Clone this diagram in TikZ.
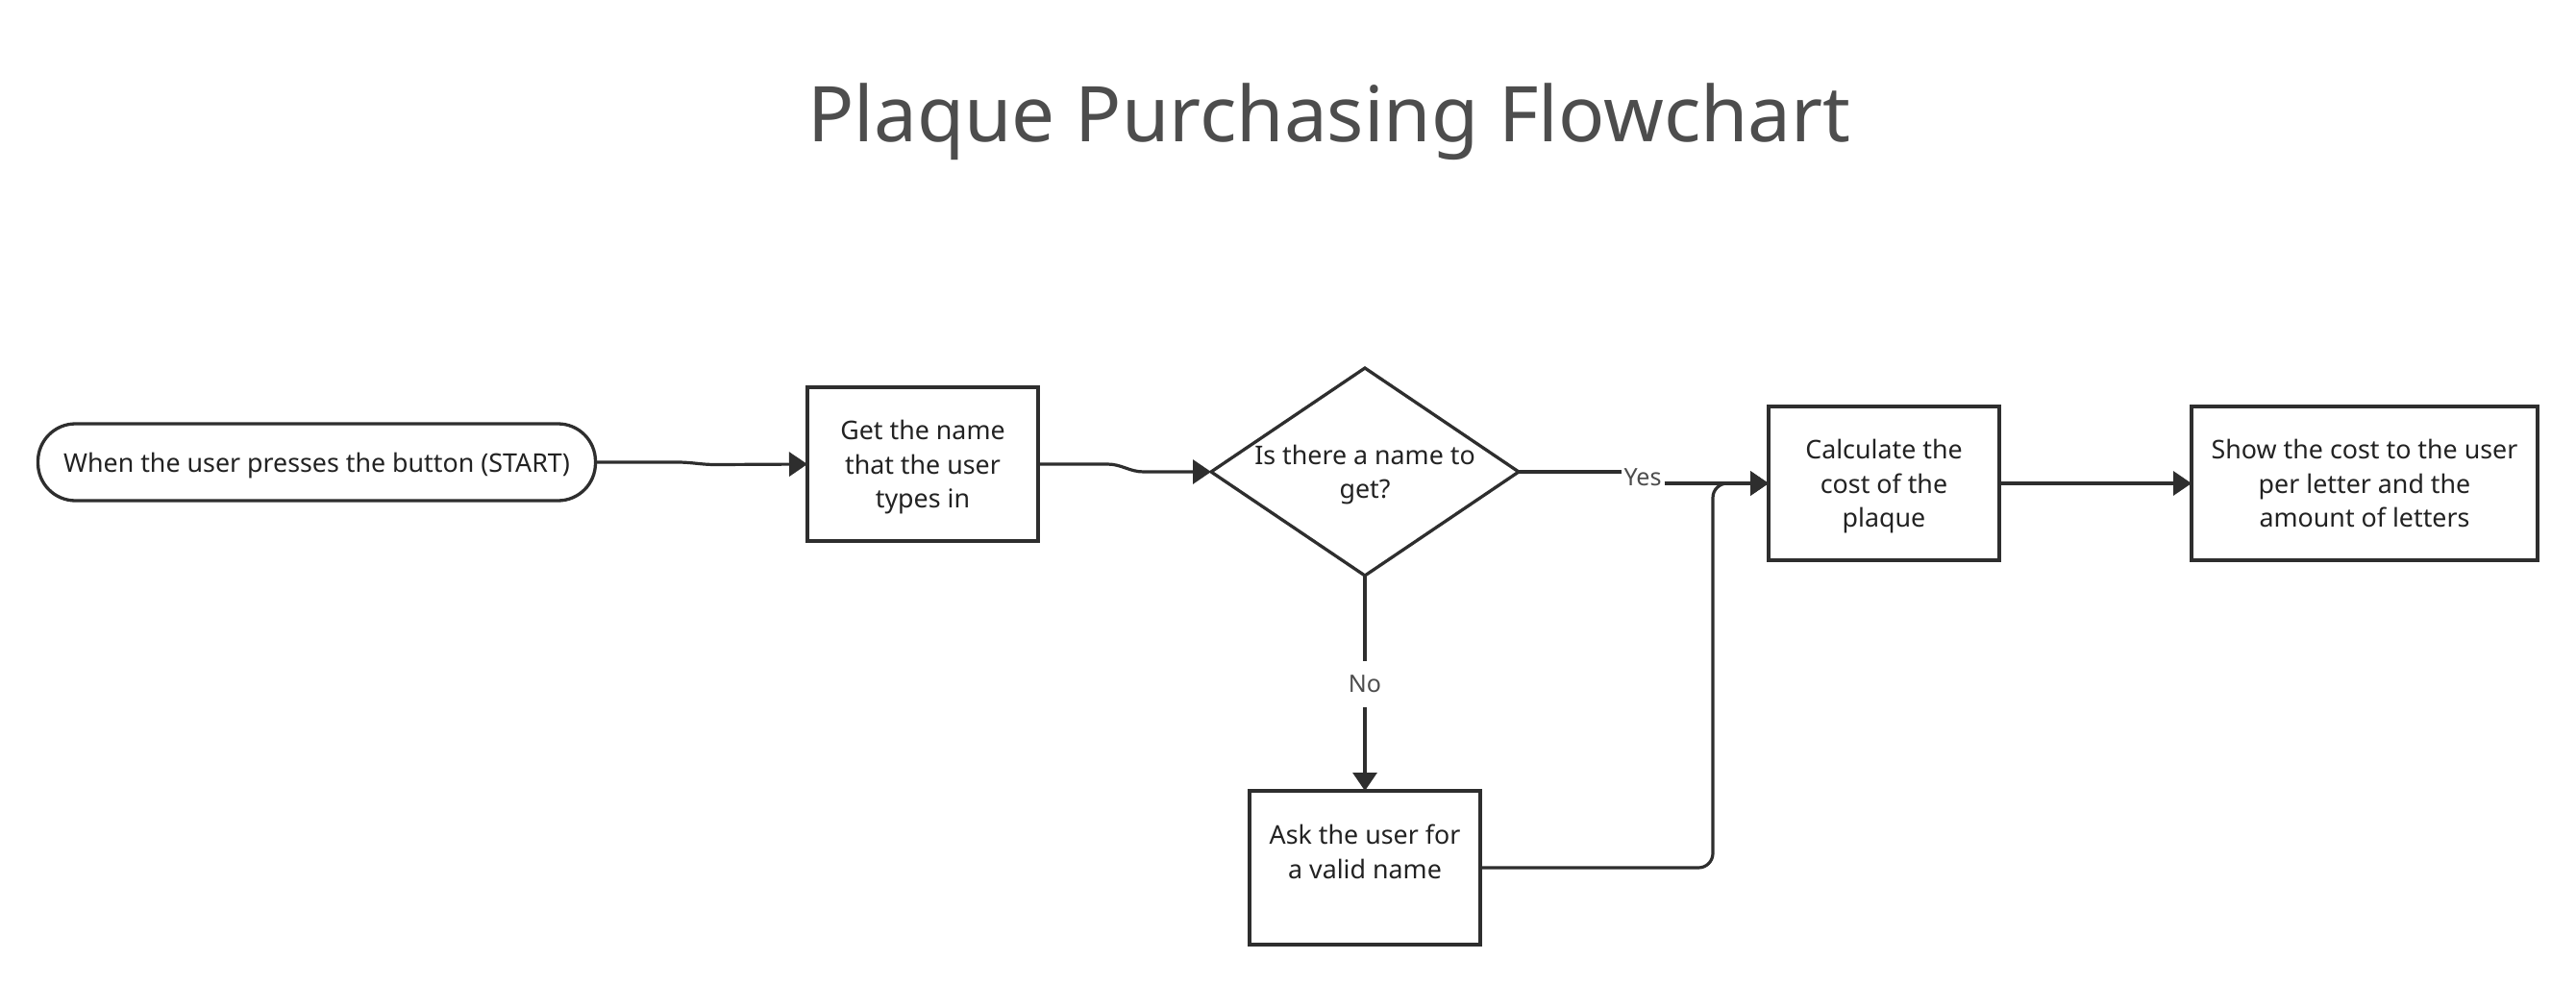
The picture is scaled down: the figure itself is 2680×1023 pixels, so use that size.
\documentclass[tikz,border=0pt]{standalone}
\usepackage{fontspec}
\setmainfont{Noto Sans}
\usetikzlibrary{arrows.meta,shapes.geometric,calc}
\definecolor{linec}{HTML}{2E2E2E}
\definecolor{textc}{HTML}{222222}
\definecolor{titlec}{HTML}{4D4D4D}
\begin{document}
\begin{tikzpicture}[x=1pt,y=-1pt,
  every node/.style={outer sep=0pt},
  boxtxt/.style={font=\fontsize{26.8pt}{35.5pt}\selectfont, text=textc, align=center},
  procbox/.style={boxtxt, draw=linec, line width=3.3pt, fill=white, rectangle, minimum width=240pt, minimum height=160pt, inner sep=0pt},
  termbox/.style={boxtxt, draw=linec, line width=3.3pt, fill=white, rectangle, rounded corners=39pt, minimum width=580pt, minimum height=80pt, inner sep=0pt},
  decbox/.style={draw=linec, line width=3.3pt, fill=white, diamond, minimum width=320pt, minimum height=216pt, inner sep=0pt},
  lbl/.style={font=\fontsize{25pt}{30pt}\selectfont, text=titlec, inner xsep=3pt, inner ysep=15pt},
  conn/.style={draw=linec, line width=3.2pt},
  arr/.style={conn, -{Triangle[length=19pt,width=25pt]}}
]
\useasboundingbox[fill=white] (0,0) rectangle (2680,1023);

\node[font=\fontsize{80pt}{90pt}\selectfont, text=titlec, anchor=base] (title) at (1383,147) {Plaque Purchasing Flowchart};

\node[termbox, text depth=0pt] (term) at (329.5,481) {When the user presses the button (START)};
\node[procbox, text depth=0pt] (get) at (960,483) {Get the name\\that the user\\types in};
\node[decbox] (dec) at (1420,491) {};
\node[boxtxt, inner sep=0pt] (dectxt) at ($(dec.center)+(0,3)$) {Is there a name to\\get?};
\node[procbox, text depth=0pt] (calc) at (1960,503) {Calculate the\\cost of the\\plaque};
\node[procbox, minimum width=360pt] (show) at (2460,503) {Show the cost to the user\\per letter and the\\amount of letters};
\node[procbox, text depth=34pt] (ask) at (1420,903) {Ask the user for\\a valid name};

\node[lbl] (yes) at (1709,497) {Yes};
\node[lbl] (no) at (1420,712) {No};
\coordinate (j) at (1782,503);

\draw[arr] (term.east) -- ++(85,0) to[out=0,in=180] ++(40,2.5) -- (get.west);
\draw[arr] (get.east) -- ++(72,0) to[out=0,in=180] ++(38,8) -- (dec.west);
\draw[conn] (dec.east) -- (yes.west |- dec.east);
\draw[arr] (yes.east |- calc.west) -- (calc.west);
\draw[conn] (dec.south) -- (no.north);
\draw[arr] (no.south) -- (ask.north);
\draw[arr, rounded corners=15pt] (ask.east) -| (j) -- (calc.west);
\draw[arr] (calc.east) -- (show.west);
\end{tikzpicture}
\end{document}
